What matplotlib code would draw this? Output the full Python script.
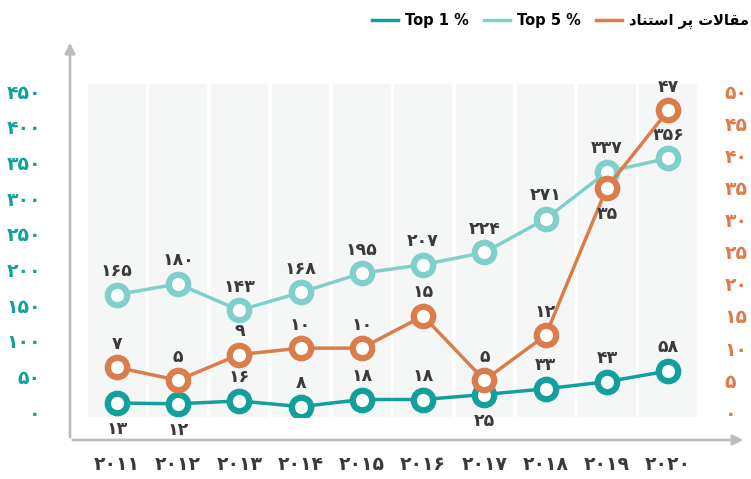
import matplotlib
matplotlib.use("Agg")
import matplotlib.pyplot as plt
from matplotlib.lines import Line2D

# Data
years = [2011, 2012, 2013, 2014, 2015, 2016, 2017, 2018, 2019, 2020]
top5 = [165, 180, 143, 168, 195, 207, 224, 271, 337, 356]
top1 = [13, 12, 16, 8, 18, 18, 25, 33, 43, 58]
highly_cited = [7, 5, 9, 10, 10, 15, 5, 12, 35, 47]
left_ticks = [0, 50, 100, 150, 200, 250, 300, 350, 400, 450]
right_ticks = [0, 5, 10, 15, 20, 25, 30, 35, 40, 45, 50]

# labels below the point (by index)
top1_below = [0, 1, 6]
cited_below = [8]

# "مقالات پر استناد" in presentation forms, visual order (no shaping in matplotlib)
cited_label = ("\uFEA9\uFE8E\uFEE8\uFE98\uFEB3\uFE8D" + " " + "\uFEAE\uFB58" + " "
               + "\uFE95\uFEFB\uFE8E\uFED8\uFEE3")

FA = str.maketrans("0123456789", "۰۱۲۳۴۵۶۷۸۹")


def fa(n):
    return str(n).translate(FA)


c_top1 = "#11a09b"
c_top5 = "#7fd0cb"
c_cited = "#dd7c4b"
c_text = "#3a3a3a"
c_axis = "#bdbdbd"

plt.rcParams["font.family"] = ["DejaVu Sans"]
plt.rcParams["font.weight"] = "bold"

fig = plt.figure(figsize=(7.51, 4.79), dpi=100)
ax = fig.add_axes([88 / 751, 1 - 417 / 479, 609 / 751, 333 / 479])
ax2 = ax.twinx()

x = list(range(len(years)))

for i in x:
    ax.axvspan(i - 0.47, i + 0.47, color="#f5f7f7", zorder=0, lw=0)

mk = dict(marker="o", markersize=14, markerfacecolor="white", markeredgewidth=4.5, lw=2.5)
ax.plot(x, top5, color=c_top5, markeredgecolor=c_top5, zorder=3, **mk)
ax.plot(x, top1, color=c_top1, markeredgecolor=c_top1, zorder=3, **mk)
ax2.plot(x, highly_cited, color=c_cited, markeredgecolor=c_cited, zorder=3, **mk)

lab = dict(ha="center", va="center", textcoords="offset points", fontsize=12.5,
           color=c_text, fontweight="bold")
for i, v in enumerate(top5):
    ax.annotate(fa(v), (i, v), xytext=(0, 17), **lab)
for i, v in enumerate(top1):
    dy = -19 if i in top1_below else 17
    ax.annotate(fa(v), (i, v), xytext=(0, dy), **lab)
for i, v in enumerate(highly_cited):
    dy = -19 if i in cited_below else 17
    ax2.annotate(fa(v), (i, v), xytext=(0, dy), **lab)

ax.set_xlim(-0.47, len(years) - 0.53)
ax.set_ylim(-6.5, 460)
ax2.set_ylim(-6.5 / 9, 460 / 9)

ax.set_xticks(x)
ax.set_xticklabels([fa(y) for y in years], fontsize=13.5, color=c_text, fontweight="bold")
ax.set_yticks(left_ticks)
ax.set_yticklabels([fa(t) for t in left_ticks], fontsize=13.5, color=c_top1, fontweight="bold")
ax2.set_yticks(right_ticks)
ax2.set_yticklabels([fa(t) for t in right_ticks], fontsize=13.5, color=c_cited, fontweight="bold")

ax.tick_params(axis="x", length=0, pad=27)
ax.tick_params(axis="y", length=0, pad=34)
ax2.tick_params(axis="y", length=0, pad=20)

for a in (ax, ax2):
    for s in a.spines.values():
        s.set_visible(False)
    a.patch.set_visible(False)

# axis arrows
fig.add_artist(matplotlib.patches.FancyArrowPatch(
    (70 / 751, 1 - 440 / 479), (70 / 751, 1 - 40 / 479), transform=fig.transFigure,
    arrowstyle="-|>,head_length=6,head_width=3", color=c_axis, lw=2, mutation_scale=1))
fig.add_artist(matplotlib.patches.FancyArrowPatch(
    (70 / 751, 1 - 440 / 479), (746 / 751, 1 - 440 / 479), transform=fig.transFigure,
    arrowstyle="-|>,head_length=6,head_width=3", color=c_axis, lw=2, mutation_scale=1))

handles = [Line2D([], [], color=c_top1, lw=2.5),
           Line2D([], [], color=c_top5, lw=2.5),
           Line2D([], [], color=c_cited, lw=2.5)]
fig.legend(handles, ["Top 1 %", "Top 5 %", cited_label], loc="upper right",
           bbox_to_anchor=(1.015, 1.0), ncol=3, frameon=False,
           handlelength=1.8, columnspacing=1.0, handletextpad=0.5,
           prop={"weight": "bold", "size": 10.5})

fig.savefig("out.png", dpi=100)
